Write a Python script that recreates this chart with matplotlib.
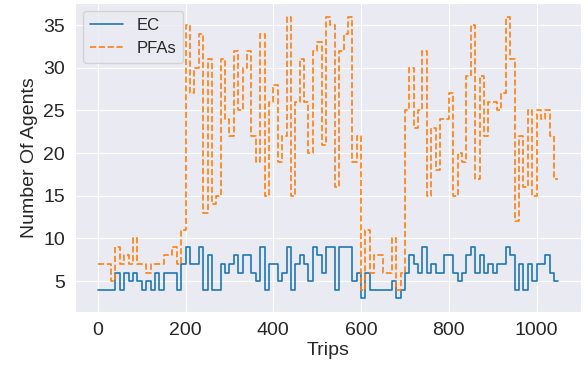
import numpy as np
import matplotlib
matplotlib.use("Agg")
import matplotlib.pyplot as plt
import seaborn as sns

# number of agents, read every 10 trips (step changes)
trips = list(range(0, 1041, 10))

ec = [4, 4, 4, 4, 6, 4, 6, 5, 6, 5,
      4, 5, 4, 6, 4, 6, 6, 6, 4, 7,
      9, 7, 7, 9, 4, 8, 4, 4, 7, 6,
      7, 8, 6, 8, 8, 6, 5, 9, 4, 7,
      7, 5, 6, 9, 4, 7, 8, 7, 5, 9,
      8, 6, 9, 9, 4, 9, 9, 9, 5, 6,
      3, 6, 4, 4, 4, 4, 4, 5, 3, 4,
      6, 8, 7, 6, 9, 6, 7, 6, 6, 8,
      8, 6, 5, 6, 8, 9, 6, 8, 6, 7,
      6, 7, 7, 9, 8, 4, 7, 4, 7, 5,
      7, 7, 8, 6, 5]

pfas = [7, 7, 7, 5, 9, 7, 8, 7, 10, 7,
        7, 6, 7, 7, 7, 8, 8, 9, 7, 11,
        35, 27, 30, 34, 13, 31, 14, 15, 31, 24,
        22, 32, 25, 30, 32, 22, 19, 34, 15, 26,
        28, 19, 22, 36, 15, 26, 31, 26, 20, 32,
        33, 21, 36, 35, 16, 32, 34, 36, 19, 22,
        4, 11, 6, 8, 8, 6, 6, 10, 4, 6,
        25, 30, 23, 25, 32, 15, 23, 18, 24, 24,
        27, 15, 20, 19, 29, 35, 17, 29, 22, 26,
        26, 25, 27, 36, 31, 12, 22, 16, 25, 15,
        25, 24, 25, 22, 17]

sns.set_style("darkgrid")
plt.rcParams['font.family'] = ['Liberation Sans', 'DejaVu Sans']

fig, ax = plt.subplots(figsize=(5.85, 3.69), dpi=100)
fig.subplots_adjust(left=0.128, right=0.994, top=0.993, bottom=0.154)

# repeat the last value so the final step is drawn out to the end
x = np.array(trips + [trips[-1] + 10])
ax.plot(x, ec + [ec[-1]], drawstyle='steps-post', color='#1f77b4',
        linewidth=1.2, label='EC')
ax.plot(x, pfas + [pfas[-1]], drawstyle='steps-post', color='#ff7f0e',
        linewidth=1.2, linestyle='--', label='PFAs')

ax.set_xlabel('Trips', fontsize=14, labelpad=2)
ax.set_ylabel('Number Of Agents', fontsize=14, labelpad=4)
ax.tick_params(labelsize=14)
ax.set_yticks([5, 10, 15, 20, 25, 30, 35])
ax.legend(loc='upper left', fontsize=12)

plt.savefig('out.png', dpi=100)
